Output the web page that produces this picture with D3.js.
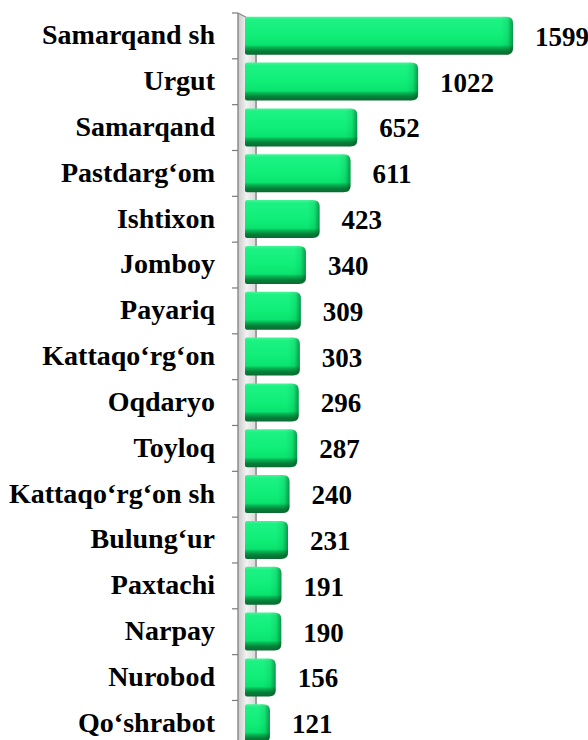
<!DOCTYPE html>
<html>
<head>
<meta charset="utf-8">
<script src="https://cdn.jsdelivr.net/npm/d3@7"></script>
</head>
<body style="margin:0">
<svg id="chart" width="588" height="740"></svg>
<script>
const categories = ["Samarqand sh", "Urgut", "Samarqand ", "Pastdarg‘om", "Ishtixon", "Jomboy", "Payariq",
  "Kattaqo‘rg‘on ", "Oqdaryo ", "Toyloq", "Kattaqo‘rg‘on sh", "Bulung‘ur", "Paxtachi", "Narpay", "Nurobod", "Qo‘shrabot"];
const values = [1599, 1022, 652, 611, 423, 340, 309, 303, 296, 287, 240, 231, 191, 190, 156, 121];

(function () {
const svg = d3.select("#chart");
const H = 740;

const y = d3.scaleBand().domain(categories).range([13, 744]).paddingInner(0.17).paddingOuter(0.06);
const x = d3.scaleLinear().domain([0, d3.max(values)]).range([250, 513]);

const defs = svg.append("defs");
const wallGrad = defs.append("linearGradient").attr("id", "wallGrad").attr("x1", 0).attr("x2", 1).attr("y1", 0).attr("y2", 0);
wallGrad.append("stop").attr("offset", "0%").attr("stop-color", "#c9c9c9");
wallGrad.append("stop").attr("offset", "45%").attr("stop-color", "#f2f2f2");
wallGrad.append("stop").attr("offset", "100%").attr("stop-color", "#d4d4d4");

const barGrad = defs.append("linearGradient").attr("id", "barGrad").attr("x1", 0).attr("x2", 0).attr("y1", 0).attr("y2", 1);
[["0%", "#46f596"], ["8%", "#1cf283"], ["50%", "#10ee78"], ["74%", "#0ae36f"], ["80%", "#07b553"], ["90%", "#067f38"], ["100%", "#0b6a33"]]
  .forEach(([o, c]) => barGrad.append("stop").attr("offset", o).attr("stop-color", c));

const sideGrad = defs.append("linearGradient").attr("id", "sideGrad").attr("x1", 0).attr("x2", 1).attr("y1", 0).attr("y2", 0);
sideGrad.append("stop").attr("offset", "0%").attr("stop-color", "#006a2a").attr("stop-opacity", 0);
sideGrad.append("stop").attr("offset", "55%").attr("stop-color", "#006a2a").attr("stop-opacity", 0.12);
sideGrad.append("stop").attr("offset", "100%").attr("stop-color", "#004d1e").attr("stop-opacity", 0.55);

// back wall (3D axis)
const yTop = y.range()[0];
const wx0 = 238, wx1 = 257;
svg.append("path")
  .attr("d", `M${wx0},${yTop} L${wx1},${yTop + 10} L${wx1},${H + 5} L${wx0},${H + 5} Z`)
  .attr("fill", "url(#wallGrad)");
svg.append("line").attr("x1", wx0).attr("x2", wx0).attr("y1", yTop).attr("y2", H + 5)
  .attr("stroke", "#8c8c8c").attr("stroke-width", 1.5);
svg.append("line").attr("x1", wx1 - 1).attr("x2", wx1 - 1).attr("y1", yTop + 9).attr("y2", H + 5)
  .attr("stroke", "#7a7a7a").attr("stroke-width", 1.2);
svg.append("line").attr("x1", wx0).attr("x2", wx1).attr("y1", yTop).attr("y2", yTop + 10)
  .attr("stroke", "#8c8c8c").attr("stroke-width", 1.2);

// ticks at band boundaries
const step = y.step();
const tickYs = d3.range(categories.length + 1).map(i => yTop + i * step);
svg.append("g").selectAll("line").data(tickYs).join("line")
  .attr("x1", 232).attr("x2", wx0).attr("y1", d => d).attr("y2", d => d)
  .attr("stroke", "#7a7a7a").attr("stroke-width", 1.2);

// bars
const r = 7;
function barPath(x0, x1, y0, h) {
  const rr = Math.min(r, (x1 - x0) / 2);
  return `M${x0},${y0 + 2} Q${x0},${y0} ${x0 + 2},${y0} L${x1 - rr},${y0} Q${x1},${y0} ${x1},${y0 + rr} L${x1},${y0 + h - rr} Q${x1},${y0 + h} ${x1 - rr},${y0 + h} L${x0 + 2},${y0 + h} Q${x0},${y0 + h} ${x0},${y0 + h - 2} Z`;
}
const bars = svg.append("g");
const depth = 5;
categories.forEach((c, i) => {
  const x0 = x(0) - depth, x1 = x(values[i]);
  const y0 = y(c) + 1, h = y.bandwidth();
  bars.append("path").attr("d", barPath(x0, x1, y0, h)).attr("fill", "url(#barGrad)");
  const sw = Math.min(12, x1 - x0);
  bars.append("path").attr("d", barPath(x1 - sw, x1, y0, h)).attr("fill", "url(#sideGrad)");
});

// category labels (drawn at 26px and scaled up)
categories.forEach((c) => {
  svg.append("text")
    .attr("transform", `translate(215,${y(c) + y.bandwidth() / 2 + 9.5}) scale(${28 / 26})`)
    .attr("text-anchor", "end")
    .style("font-family", `"Liberation Serif"`).style("font-weight", "bold").style("font-size", "26px")
    .text(c);
});

// value labels
values.forEach((v, i) => {
  svg.append("text")
    .attr("transform", `translate(${x(v) + 22},${y(categories[i]) + y.bandwidth() / 2 + 11}) scale(${27 / 26})`)
    .attr("text-anchor", "start")
    .style("font-family", `"Liberation Serif"`).style("font-weight", "bold").style("font-size", "26px")
    .text(v);
});
})();
</script>
</body>
</html>
